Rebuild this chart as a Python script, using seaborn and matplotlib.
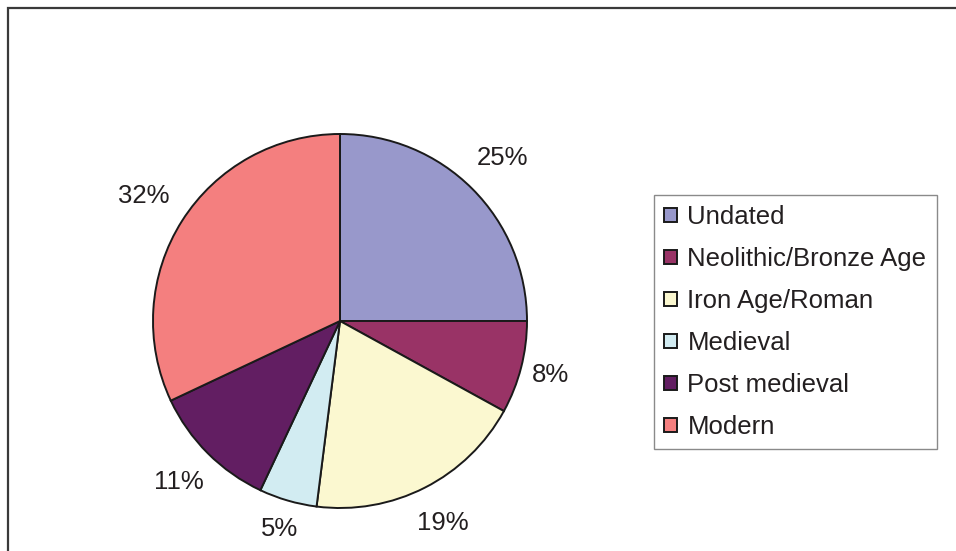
import matplotlib
matplotlib.use("Agg")
import numpy as np
import matplotlib.pyplot as plt
from matplotlib.patches import Rectangle
import seaborn as sns

# Share of finds by period
periods = ["Undated", "Neolithic/Bronze Age", "Iron Age/Roman",
           "Medieval", "Post medieval", "Modern"]
shares = [25, 8, 19, 5, 11, 32]
slice_colors = ["#9898CB", "#993366", "#FBF8D0", "#D2ECF2", "#621E62", "#F47F7F"]

sns.set_theme(style="white")
plt.rcParams["font.family"] = ["Liberation Sans", "DejaVu Sans"]

W, H = 956, 551
fig = plt.figure(figsize=(W / 100, H / 100), dpi=100)
fig.patch.set_facecolor("white")

# pie axes: centre (340, 321) px, radius 187 px
cx, cy, r = 340, 321, 187
ax = fig.add_axes([(cx - r) / W, (H - cy - r) / H, 2 * r / W, 2 * r / H])
palette = sns.color_palette(slice_colors)
wedges, _, autotexts = ax.pie(
    shares, colors=palette, startangle=90, counterclock=False,
    autopct=lambda p: f"{p:.0f}%", pctdistance=1.21,
    wedgeprops=dict(edgecolor="#1a1a1a", linewidth=1.4),
    textprops=dict(fontsize=18.5, color="#231f20"),
)

# nudge each percentage label radially so it sits just clear of its rim
label_radius = [1.23, 1.16, 1.21, 1.16, 1.22, 1.245]
for w, t, d in zip(wedges, autotexts, label_radius):
    mid = np.deg2rad((w.theta1 + w.theta2) / 2)
    t.set_position((d * np.cos(mid), d * np.sin(mid)))

ax.set_xlim(-1, 1)
ax.set_ylim(-1, 1)
ax.set_aspect("equal")
ax.axis("off")

leg = fig.legend(
    wedges, periods, loc="upper left",
    bbox_to_anchor=(654 / W, 1 - 195 / H),
    fontsize=18.5, frameon=True, fancybox=False, shadow=False,
    handlelength=0.5, handleheight=0.5, handletextpad=0.4,
    labelspacing=0.70, borderpad=0.4, borderaxespad=0.0,
)
leg.get_frame().set_edgecolor("#6d6d6d")
leg.get_frame().set_linewidth(1.0)
for t in leg.get_texts():
    t.set_color("#231f20")

# outer chart frame (right and bottom edges run off the image)
fig.patches.append(Rectangle((8 / W, -0.1), 1.2, 1 - 8 / H + 0.1,
                             transform=fig.transFigure, fill=False,
                             edgecolor="#3a3a3a", linewidth=1.6))

fig.savefig("out.png", dpi=100)
